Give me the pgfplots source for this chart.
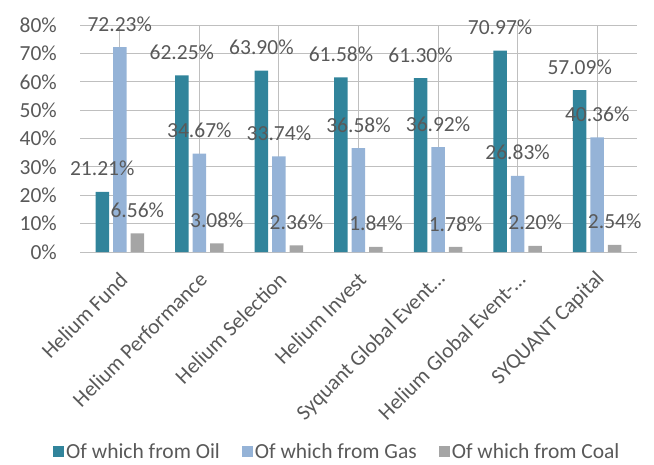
\documentclass[border=0pt]{standalone}
\usepackage{pgfplots}
\pgfplotsset{compat=1.18}
\usepackage{fontspec}
\setmainfont{Carlito}
\definecolor{txt}{HTML}{595959}
\definecolor{oil}{HTML}{31849B}
\definecolor{gas}{HTML}{95B3D7}
\definecolor{coal}{HTML}{A5A5A5}
\definecolor{grid}{HTML}{D9D9D9}
\begin{document}
\begin{tikzpicture}
\path[use as bounding box] (0,0) rectangle (654pt,464pt);
\begin{axis}[
  at={(80pt,212pt)}, anchor=south west,
  scale only axis, width=557pt, height=227pt,
  xmin=-0.5, xmax=6.5, ymin=0, ymax=80,
  ybar=4pt, bar width=13.5pt,
  axis line style={draw=none},
  major tick length=0pt,
  ymajorgrids, major grid style={grid, line width=1pt},
  ytick={0,10,...,80},
  yticklabel={\pgfmathprintnumber{\tick}\%},
  /pgf/number format/assume math mode=true,
  yticklabel style={font=\fontsize{21.5}{25}\selectfont, text=txt, inner sep=0pt, anchor=east, xshift=-23pt},
  xtick=data,
  xticklabels={Helium Fund, Helium Performance, Helium Selection, Helium Invest, Syquant Global Event\ldots, Helium Global Event-\ldots, SYQUANT Capital},
  xticklabel style={font=\fontsize{21.5}{25}\selectfont, text=txt, inner sep=0pt, xshift=4pt, yshift=-24pt, rotate=45, anchor=east},
  nodes near coords={\pgfmathprintnumber[fixed,fixed zerofill,precision=2]{\pgfplotspointmeta}\%},
  every node near coord/.append style={font=\fontsize{21.5}{25}\selectfont, text=txt, inner sep=0pt, anchor=south, yshift=15.5pt},
  legend columns=3,
  legend style={at={(axis description cs:0.462,-0.881)}, anchor=center, draw=none, fill=none,
    font=\fontsize{21.5}{25}\selectfont, text=txt,
    /tikz/every even column/.append style={column sep=20pt}},
  legend image code/.code={\fill[#1] (0pt,-5.5pt) rectangle (11pt,5.5pt);},
]
\addplot[fill=oil, draw=none] coordinates {(0,21.21) (1,62.25) (2,63.90) (3,61.58) (4,61.30) (5,70.97) (6,57.09)};
\addplot[fill=gas, draw=none] coordinates {(0,72.23) (1,34.67) (2,33.74) (3,36.58) (4,36.92) (5,26.83) (6,40.36)};
\addplot[fill=coal, draw=none] coordinates {(0,6.56) (1,3.08) (2,2.36) (3,1.84) (4,1.78) (5,2.20) (6,2.54)};
\legend{Of which from Oil, Of which from Gas, Of which from Coal}
\end{axis}
\end{tikzpicture}
\end{document}
